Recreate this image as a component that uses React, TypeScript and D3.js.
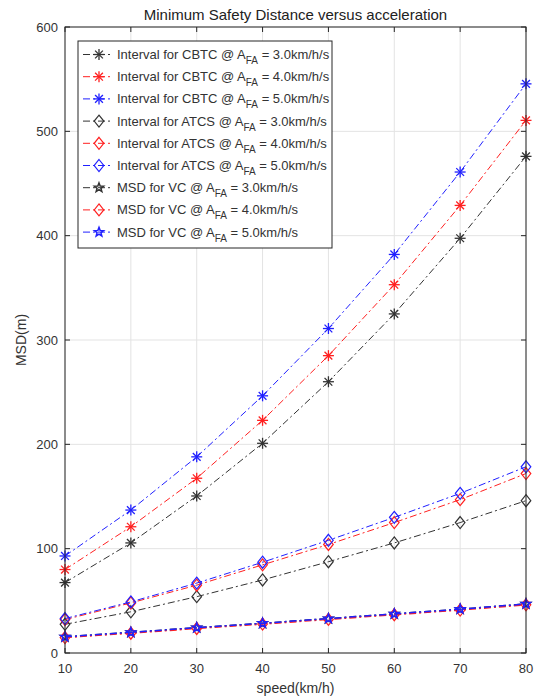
import React from "react";
import * as d3 from "d3";

const speeds = [10, 20, 30, 40, 50, 60, 70, 80];
const cbtc30 = [67.5, 105.5, 150.5, 201, 260, 325, 397.5, 476];
const cbtc40 = [80, 121, 167.5, 223, 285, 353, 429, 510.5];
const cbtc50 = [93, 137, 188, 246.5, 311, 382, 461, 545.5];
const atcs30 = [27.5, 39.5, 54, 70, 87.5, 105.5, 125, 146];
const atcs40 = [32, 48, 65, 84.5, 104, 125, 147, 172];
const atcs50 = [33, 49, 67, 87, 108, 130, 153, 178.5];
const vc30 = [15.5, 19.8, 24.3, 28.5, 33, 37.5, 42, 47];
const vc40 = [14.8, 19.0, 23.5, 27.7, 32.2, 36.7, 41.2, 46.2];
const vc50 = [15.5, 19.8, 24.3, 28.5, 33, 37.5, 42, 47];
const xTicks = [10, 20, 30, 40, 50, 60, 70, 80];
const yTicks = [0, 100, 200, 300, 400, 500, 600];

type Marker = "asterisk" | "diamond" | "star";
const seriesList: { name: string; vals: number[]; color: string; marker: Marker; width: number }[] = [
  { name: "Interval for CBTC @ A", vals: cbtc30, color: "#333333", marker: "asterisk", width: 1 },
  { name: "Interval for CBTC @ A", vals: cbtc40, color: "#ff2020", marker: "asterisk", width: 1 },
  { name: "Interval for CBTC @ A", vals: cbtc50, color: "#2020ff", marker: "asterisk", width: 1 },
  { name: "Interval for ATCS @ A", vals: atcs30, color: "#333333", marker: "diamond", width: 1 },
  { name: "Interval for ATCS @ A", vals: atcs40, color: "#ff2020", marker: "diamond", width: 1 },
  { name: "Interval for ATCS @ A", vals: atcs50, color: "#2020ff", marker: "diamond", width: 1 },
  { name: "MSD for VC @ A", vals: vc30, color: "#333333", marker: "star", width: 1.5 },
  { name: "MSD for VC @ A", vals: vc40, color: "#ff2020", marker: "diamond", width: 1.5 },
  { name: "MSD for VC @ A", vals: vc50, color: "#2020ff", marker: "star", width: 1.5 },
];
const accels = ["3.0", "4.0", "5.0", "3.0", "4.0", "5.0", "3.0", "4.0", "5.0"];

const W = 535, H = 696;
const L = 65, R = 526, T = 27, B = 653;

function starPath(cx: number, cy: number, r: number) {
  const pts: string[] = [];
  for (let i = 0; i < 10; i++) {
    const rr = i % 2 === 0 ? r : r * 0.42;
    const a = -Math.PI / 2 + (i * Math.PI) / 5;
    pts.push(`${cx + rr * Math.cos(a)},${cy + rr * Math.sin(a)}`);
  }
  return "M" + pts.join("L") + "Z";
}

function MarkerShape({ m, x, y, c }: { m: Marker; x: number; y: number; c: string }) {
  if (m === "asterisk") {
    const r = 5.5;
    const lines = [0, 45, 90, 135].map((a) => {
      const rad = (a * Math.PI) / 180;
      return (
        <line key={a} x1={x - r * Math.cos(rad)} y1={y - r * Math.sin(rad)} x2={x + r * Math.cos(rad)} y2={y + r * Math.sin(rad)} stroke={c} strokeWidth={1.3} />
      );
    });
    return <g>{lines}</g>;
  }
  if (m === "diamond") {
    const r = 6;
    return <path d={`M${x},${y - r}L${x + r * 0.8},${y}L${x},${y + r}L${x - r * 0.8},${y}Z`} fill="none" stroke={c} strokeWidth={1.2} />;
  }
  return <path d={starPath(x, y, 4.8)} fill="none" stroke={c} strokeWidth={1.5} />;
}

export default function App() {
  const x = d3.scaleLinear().domain([10, 80]).range([L, R]);
  const y = d3.scaleLinear().domain([0, 600]).range([B, T]);
  const line = d3.line<number>().x((_, i) => x(speeds[i])).y((v) => y(v));
  const font = "'Liberation Sans', Arial, sans-serif";
  const dash = "7,3,2,3";
  const legX = 78, legY = 41, legW = 254, legH = 207;
  const rowH = 22.2;

  return (
    <svg width={W} height={H} style={{ position: "absolute", left: 0, top: 0, fontFamily: font }}>
      <rect x={0} y={0} width={W} height={H} fill="#fff" />
      {xTicks.map((t) => (
        <line key={"gx" + t} x1={x(t)} x2={x(t)} y1={T} y2={B} stroke="#e3e3e3" strokeWidth={1} />
      ))}
      {yTicks.map((t) => (
        <line key={"gy" + t} x1={L} x2={R} y1={y(t)} y2={y(t)} stroke="#e3e3e3" strokeWidth={1} />
      ))}
      {seriesList.map((s, i) => (
        <g key={"s" + i}>
          <path d={line(s.vals) || ""} fill="none" stroke={s.color} strokeWidth={s.width} strokeDasharray={dash} />
          {s.vals.map((v, j) => (
            <MarkerShape key={j} m={s.marker} x={x(speeds[j])} y={y(v)} c={s.color} />
          ))}
        </g>
      ))}
      <rect x={L} y={T} width={R - L} height={B - T} fill="none" stroke="#262626" strokeWidth={1} />
      {xTicks.map((t) => (
        <g key={"tx" + t}>
          <line x1={x(t)} x2={x(t)} y1={B} y2={B - 5} stroke="#262626" />
          <line x1={x(t)} x2={x(t)} y1={T} y2={T + 5} stroke="#262626" />
          <text x={x(t)} y={B + 20} textAnchor="middle" fontSize={13} fill="#333">{t}</text>
        </g>
      ))}
      {yTicks.map((t) => (
        <g key={"ty" + t}>
          <line x1={L} x2={L + 5} y1={y(t)} y2={y(t)} stroke="#262626" />
          <line x1={R} x2={R - 5} y1={y(t)} y2={y(t)} stroke="#262626" />
          <text x={L - 7} y={y(t) + 4.5} textAnchor="end" fontSize={13} fill="#333">{t}</text>
        </g>
      ))}
      <text x={(L + R) / 2} y={20} textAnchor="middle" fontSize={15} fill="#222">Minimum Safety Distance versus acceleration</text>
      <text x={(L + R) / 2} y={693} textAnchor="middle" fontSize={14} fill="#333">speed(km/h)</text>
      <text transform={`translate(26,${(T + B) / 2}) rotate(-90)`} textAnchor="middle" fontSize={14} fill="#333">MSD(m)</text>
      <rect x={legX} y={legY} width={legW} height={legH} fill="#fff" stroke="#262626" strokeWidth={1} />
      {seriesList.map((s, i) => {
        const cy = legY + 13.5 + i * rowH;
        return (
          <g key={"l" + i}>
            <line x1={83} x2={113} y1={cy} y2={cy} stroke={s.color} strokeWidth={1} strokeDasharray={dash} />
            <MarkerShape m={s.marker} x={99} y={cy} c={s.color} />
            <text x={117} y={cy + 4.5} fontSize={13} fill="#333">
              {s.name}
              <tspan fontSize={10} dy={5}>FA</tspan>
              <tspan dy={-5}>{` = ${accels[i]}km/h/s`}</tspan>
            </text>
          </g>
        );
      })}
    </svg>
  );
}
